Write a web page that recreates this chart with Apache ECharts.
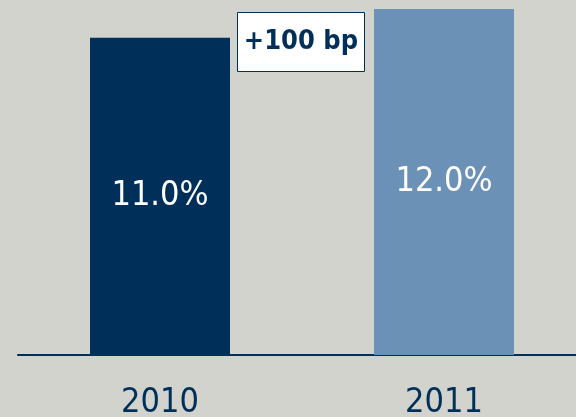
<!DOCTYPE html>
<html>
<head>
<meta charset="utf-8">
<script src="https://cdn.jsdelivr.net/npm/echarts@6/dist/echarts.min.js"></script>
<style>
  html, body { margin: 0; padding: 0; background: #d1d3cc; }
  #chart { width: 576px; height: 417px; }
</style>
</head>
<body>
<div id="chart"></div>
<script>
// Ratio by year, in percent
const years = ['2010', '2011'];
const ratios = [11.0, 12.0];
const barColors = ['#003059', '#6b91b7'];
const changeLabel = '+100 bp';

const FONT = '"DejaVu Sans Condensed", "DejaVu Sans", sans-serif';
const NAVY = '#003059';

const chart = echarts.init(document.getElementById('chart'));

chart.setOption({
  backgroundColor: '#d1d3cc',
  animation: false,
  // plot area runs past the right edge of the canvas
  grid: { left: 18, width: 568, top: 9, bottom: 62, outerBoundsMode: 'none', containLabel: false },
  xAxis: {
    type: 'category',
    data: years,
    axisLine: { lineStyle: { color: NAVY, width: 2 } },
    axisTick: { show: false },
    axisLabel: {
      color: NAVY,
      fontFamily: FONT,
      fontSize: 34,
      margin: 31
    }
  },
  yAxis: {
    type: 'value',
    min: 0,
    max: 12,
    show: false,
    splitLine: { show: false }
  },
  series: [{
    type: 'bar',
    barWidth: 140,
    data: ratios.map((v, i) => ({ value: v, itemStyle: { color: barColors[i] } })),
    label: {
      show: true,
      position: 'inside',
      color: '#ffffff',
      fontFamily: FONT,
      fontSize: 34,
      formatter: p => p.value.toFixed(1) + '%'
    }
  }],
  graphic: [{
    type: 'group',
    left: 237,
    top: 12,
    children: [{
      type: 'rect',
      shape: { x: 0, y: 0, width: 127, height: 59 },
      style: { fill: '#ffffff', stroke: NAVY, lineWidth: 1 }
    }, {
      type: 'text',
      x: 63.5,
      y: 29.5,
      style: {
        text: changeLabel,
        fill: NAVY,
        font: 'bold 27px ' + FONT,
        align: 'center',
        verticalAlign: 'middle'
      }
    }]
  }]
});
</script>
</body>
</html>
